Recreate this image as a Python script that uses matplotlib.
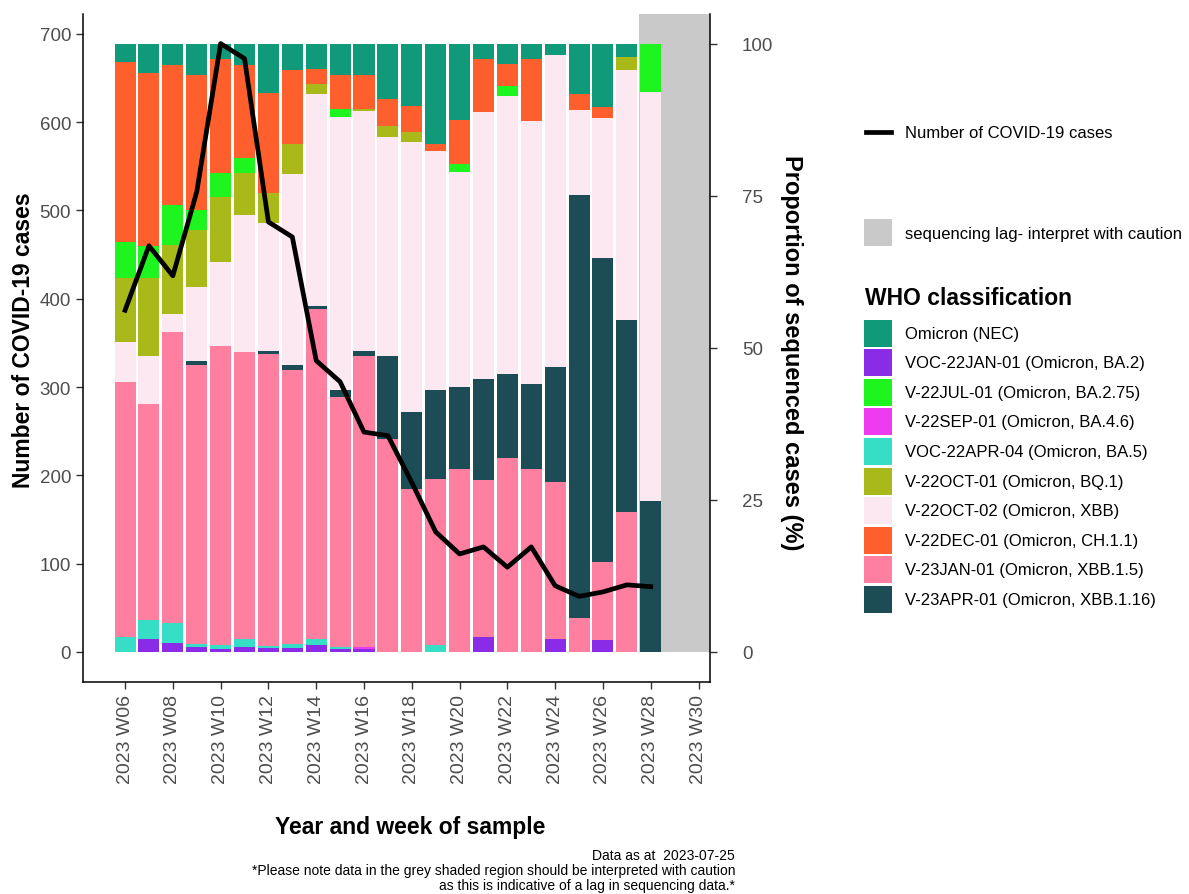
import numpy as np
import matplotlib.pyplot as plt
from matplotlib.patches import Rectangle

plt.rcParams['font.family'] = ['Liberation Sans', 'DejaVu Sans']

weeks = list(range(6, 29))
tick_weeks = list(range(6, 31, 2))
tick_labels = ["2023 W%02d" % w for w in tick_weeks]

cases = [387, 460, 426, 521, 689, 672, 487, 470, 330, 306, 249, 245, 192,
         136, 111, 119, 96, 119, 75, 63, 68, 76, 74]

# proportions (%) per WHO classification, weeks W06..W28
nec = [3.1, 4.8, 3.6, 5.1, 2.6, 3.6, 8.1, 4.4, 4.1, 5.2, 5.2, 9.1, 10.2, 16.5,
       12.55, 2.5, 3.3, 2.5, 1.9, 8.25, 10.45, 2.2, 0]
ba2 = [0, 2.2, 1.4, 0.8, 0.55, 0.8, 0.65, 0.65, 1.2, 0.45, 0.5, 0, 0, 0, 0,
       2.5, 0, 0, 2.1, 0, 2.0, 0, 0]
ba275 = [6.0, 5.4, 6.6, 3.3, 3.9, 2.5, 0, 0, 0, 1.4, 0, 0, 0, 0, 1.2, 0, 1.65,
         0, 0, 0, 0, 0, 8.0]
ba46 = [0, 0, 0, 0, 0, 0, 0, 0, 0, 0, 0.4, 0, 0, 0, 0, 0, 0, 0, 0, 0, 0, 0, 0]
ba5 = [2.4, 3.0, 3.3, 0.55, 0.65, 1.4, 0.4, 0.7, 1.0, 0.4, 0, 0, 0, 1.1, 0, 0,
       0, 0, 0, 0, 0, 0, 0]
bq1 = [10.5, 12.7, 11.3, 9.3, 10.7, 6.9, 4.95, 5.0, 1.65, 0, 0.3, 1.9, 1.65, 0,
       0, 0, 0, 0, 0, 0, 0, 2.2, 0]
xbb = [6.6, 8.0, 3.0, 12.1, 13.8, 22.5, 20.9, 31.4, 34.9, 44.85, 39.6, 36.0,
       44.3, 39.2, 35.4, 43.8, 45.7, 43.3, 51.3, 14.1, 23.1, 41.0, 67.2]
ch11 = [29.5, 28.4, 22.9, 22.3, 18.7, 15.2, 16.5, 12.1, 2.5, 5.5, 5.5, 4.4, 4.4,
        1.2, 7.3, 8.8, 3.6, 10.2, 0, 2.6, 1.75, 0, 0]
xbb15 = [41.9, 35.5, 47.9, 45.85, 49.1, 47.1, 47.9, 44.95, 54.1, 41.1, 47.7,
         35.0, 26.75, 27.4, 30.05, 25.7, 31.85, 30.1, 25.8, 5.65, 12.8, 23.0, 0]
xbb116 = [0, 0, 0, 0.7, 0, 0, 0.6, 0.8, 0.55, 1.1, 0.8, 13.6, 12.7, 14.6, 13.5,
          16.7, 13.9, 13.9, 18.9, 69.4, 49.9, 31.6, 24.8]

legend_names = ["Omicron (NEC)", "VOC-22JAN-01 (Omicron, BA.2)",
                "V-22JUL-01 (Omicron, BA.2.75)", "V-22SEP-01 (Omicron, BA.4.6)",
                "VOC-22APR-04 (Omicron, BA.5)", "V-22OCT-01 (Omicron, BQ.1)",
                "V-22OCT-02 (Omicron, XBB)", "V-22DEC-01 (Omicron, CH.1.1)",
                "V-23JAN-01 (Omicron, XBB.1.5)", "V-23APR-01 (Omicron, XBB.1.16)"]
legend_vals = [nec, ba2, ba275, ba46, ba5, bq1, xbb, ch11, xbb15, xbb116]
legend_cols = ['#119A79', '#8A2BE8', '#1EF51E', '#EE3BF2', '#36DEC6',
               '#A9B91A', '#FCE8F0', '#FF5F2D', '#FF7FA1', '#1C4D57']
# stacking order bottom -> top
stack_order = [1, 3, 4, 8, 9, 6, 5, 2, 7, 0]

SCALE = 6.89  # cases per percent (secondary axis)
ylim = (-34, 722.5)

W, H = 1189, 895
fig = plt.figure(figsize=(W / 100, H / 100), dpi=100)
ax = fig.add_axes([83 / W, 1 - 683 / H, 627 / W, 668 / H])
ax2 = ax.twinx()

# grey lag region and stacked proportions on the secondary axis
ax2.fill_between([27.5, 31], 0, 200, color='#C9C9C9', lw=0, zorder=1)
bottom = np.zeros(len(weeks))
for i in stack_order:
    vals = np.array(legend_vals[i])
    ax2.bar(weeks, vals, bottom=bottom, width=0.88, color=legend_cols[i],
            lw=0, zorder=2)
    bottom += vals

ax.plot(weeks, cases, color='black', lw=3.4, solid_joinstyle='round', zorder=5)

ax.set_zorder(ax2.get_zorder() + 1)
ax.patch.set_visible(False)

ax.set_xlim(4.24, 30.48)
ax.set_ylim(*ylim)
ax2.set_ylim(ylim[0] / SCALE, ylim[1] / SCALE)
ax.set_yticks(range(0, 701, 100))
ax2.set_yticks([0, 25, 50, 75, 100])
ax.set_xticks(tick_weeks)
ax.set_xticklabels(tick_labels, rotation=90)

for a in (ax, ax2):
    for s in a.spines.values():
        s.set_visible(False)
    a.tick_params(labelsize=13.5, labelcolor='#4D4D4D', color='#333333',
                  length=5, width=1)
ax2.tick_params(axis='y', pad=18)
ax.tick_params(axis='x', labelsize=14)
ax.spines['left'].set_visible(True)
ax.spines['bottom'].set_visible(True)
ax2.spines['right'].set_visible(True)
for s in (ax.spines['left'], ax.spines['bottom'], ax2.spines['right']):
    s.set_linewidth(1.1)
    s.set_color('black')

# overlay in pixel coordinates for titles and legend
ov = fig.add_axes([0, 0, 1, 1])
ov.set_xlim(0, W)
ov.set_ylim(H, 0)
ov.axis('off')

ov.text(24, 340, "Number of COVID-19 cases", rotation=90, ha='center',
        va='center', fontsize=16.5, fontweight='bold')
ov.text(792, 353, "Proportion of sequenced cases (%)", rotation=-90,
        ha='center', va='center', fontsize=17, fontweight='bold')
ov.text(410, 828, "Year and week of sample", ha='center', va='center',
        fontsize=16.5, fontweight='bold')
ov.text(735, 856, "Data as at  2023-07-25", ha='right', va='center',
        fontsize=10)
ov.text(735, 871, "*Please note data in the grey shaded region should be "
        "interpreted with caution", ha='right', va='center', fontsize=10)
ov.text(735, 886, "as this is indicative of a lag in sequencing data.*",
        ha='right', va='center', fontsize=10)

ov.plot([866, 891], [133, 133], color='black', lw=3.4)
ov.text(905, 133, "Number of COVID-19 cases", va='center', fontsize=12)
ov.add_patch(Rectangle((864, 220), 28, 27, color='#C9C9C9', lw=0))
ov.text(905, 234, "sequencing lag- interpret with caution", va='center',
        fontsize=12)
ov.text(865, 298, "WHO classification", va='center', fontsize=16.5,
        fontweight='bold')
for k, (name, col) in enumerate(zip(legend_names, legend_cols)):
    yc = 334 + 29.6 * k
    ov.add_patch(Rectangle((864, yc - 13.5), 28, 27, color=col, lw=0))
    ov.text(905, yc, name, va='center', fontsize=12)

fig.savefig("out.png", dpi=100)
